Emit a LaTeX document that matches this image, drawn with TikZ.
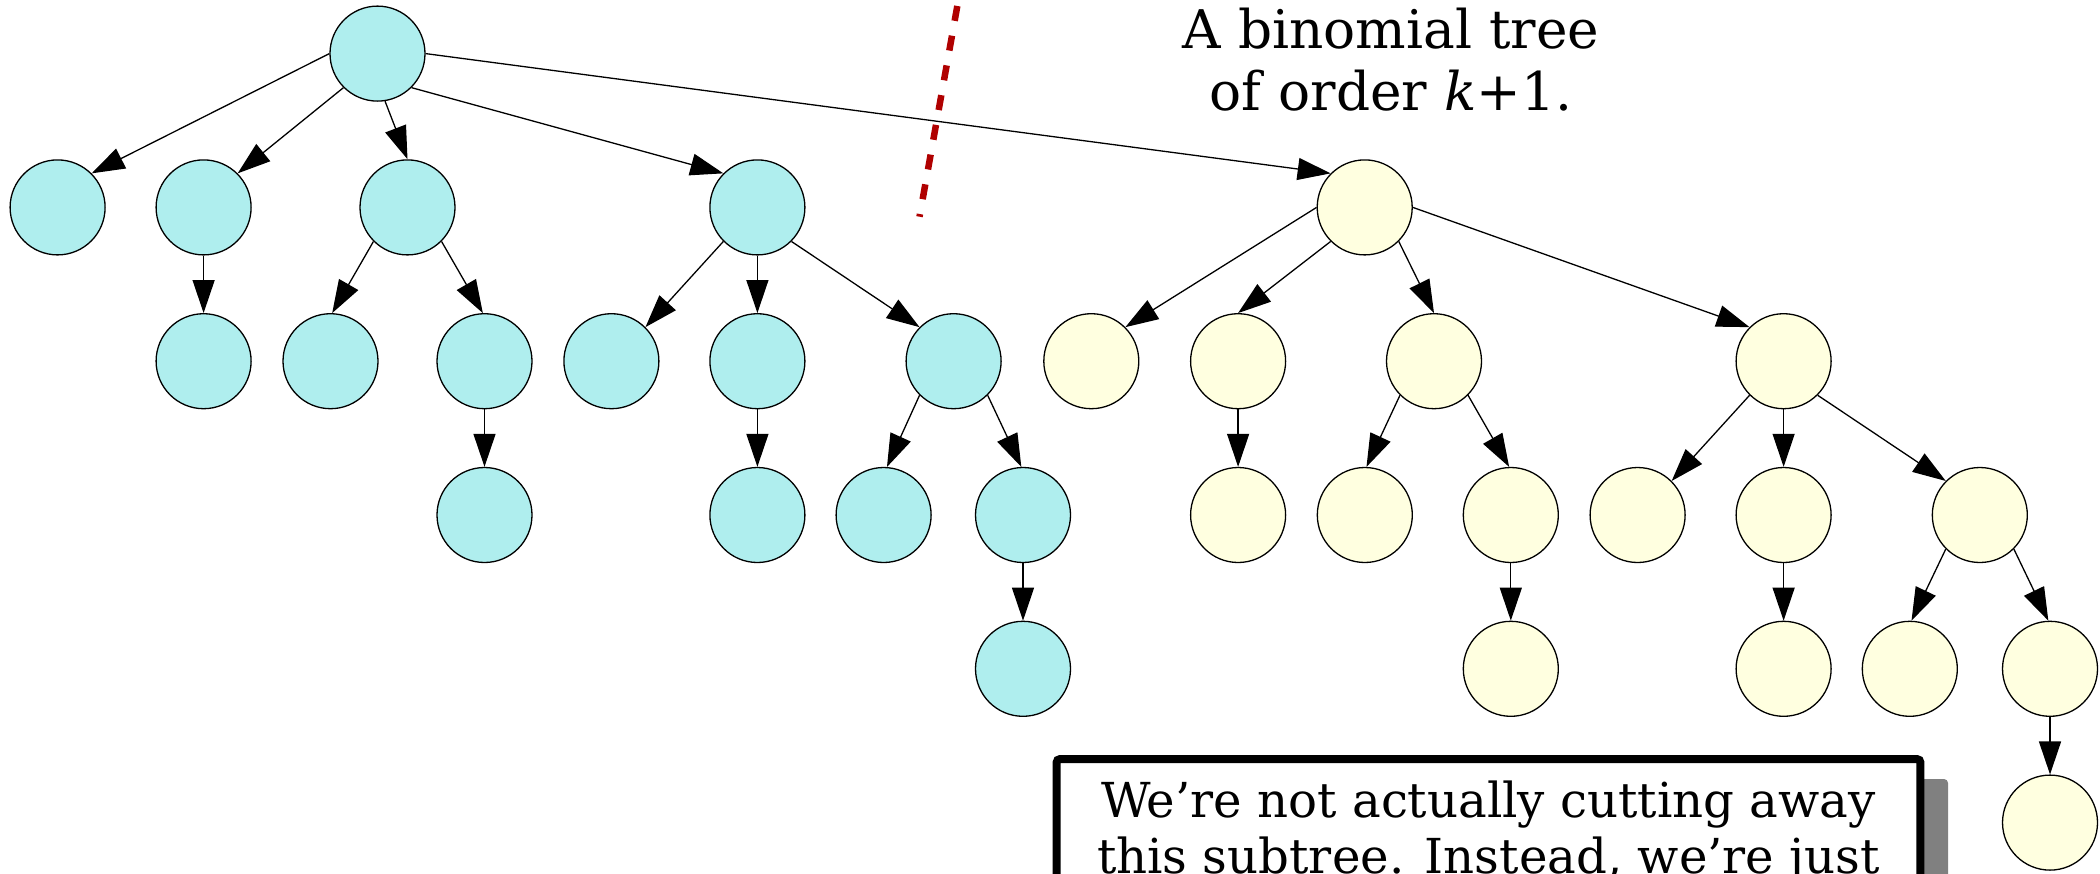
\documentclass[tikz,border=0pt]{standalone}
\usepackage{fontspec}
\setmainfont{DejaVu Serif}
\usetikzlibrary{arrows.meta}
\definecolor{bluefill}{HTML}{AFEEEE}
\definecolor{yelfill}{HTML}{FFFFE0}
\definecolor{cutred}{RGB}{176,0,0}
\definecolor{shadowgray}{RGB}{128,128,128}
\begin{document}
\begin{tikzpicture}[x=1pt,y=-1pt,
  bn/.style={circle, draw=black, line width=1.3pt, fill=bluefill, minimum size=95pt, inner sep=0pt},
  yn/.style={circle, draw=black, line width=1.3pt, fill=yelfill, minimum size=95pt, inner sep=0pt},
  edge/.style={-{Triangle[length=33pt,width=22pt]}, line width=1.3pt},
  titletext/.style={font=\fontsize{53.3}{62}\selectfont, inner sep=0pt, anchor=base},
  notetext/.style={font=\fontsize{48.2}{56}\selectfont, inner sep=0pt, anchor=base}]
\clip (0,0) rectangle (2100,873);
\fill[white] (0,0) rectangle (2100,873);
% levels
\def\la{53.6}\def\lb{207.4}\def\lc{361.2}\def\ld{515}\def\le{668.8}\def\lf{822.6}
% blue tree
\node[bn] (r) at (377.5,\la) {};
\node[bn] (a) at (57.6,\lb) {};
\node[bn] (b) at (203.6,\lb) {};
\node[bn] (c) at (407.5,\lb) {};
\node[bn] (d) at (757.4,\lb) {};
\node[bn] (b1) at (203.6,\lc) {};
\node[bn] (c1) at (330.5,\lc) {};
\node[bn] (c2) at (484.5,\lc) {};
\node[bn] (d1) at (611.4,\lc) {};
\node[bn] (d2) at (757.4,\lc) {};
\node[bn] (d3) at (953.6,\lc) {};
\node[bn] (c2a) at (484.5,\ld) {};
\node[bn] (d2a) at (757.4,\ld) {};
\node[bn] (d3a) at (883.6,\ld) {};
\node[bn] (d3b) at (1023,\ld) {};
\node[bn] (d3ba) at (1023,\le) {};
% yellow tree
\node[yn] (e) at (1364.7,\lb) {};
\node[yn] (e1) at (1091.3,\lc) {};
\node[yn] (e2) at (1238.1,\lc) {};
\node[yn] (e3) at (1434,\lc) {};
\node[yn] (e4) at (1783.6,\lc) {};
\node[yn] (e2a) at (1238.1,\ld) {};
\node[yn] (e3a) at (1364.8,\ld) {};
\node[yn] (e3b) at (1510.8,\ld) {};
\node[yn] (e4a) at (1637.6,\ld) {};
\node[yn] (e4b) at (1783.6,\ld) {};
\node[yn] (e4c) at (1979.8,\ld) {};
\node[yn] (e3ba) at (1510.8,\le) {};
\node[yn] (e4ba) at (1783.6,\le) {};
\node[yn] (e4ca) at (1909.8,\le) {};
\node[yn] (e4cb) at (2050,\le) {};
\node[yn] (e4cba) at (2050,\lf) {};
% edges: source/out-angle/target/in-angle
\foreach \s/\o/\t/\i in {r/180/a/45, r/225/b/45, r/279/c/90, r/315/d/135, r/0/e/135,
  b/270/b1/90, c/225/c1/88, c/315/c2/92, c2/270/c2a/90,
  d/225/d1/45, d/270/d2/90, d/315/d3/135, d2/270/d2a/90,
  d3/225/d3a/86, d3/315/d3b/92, d3b/270/d3ba/90,
  e/180/e1/45, e/225/e2/90, e/315/e3/90, e/0/e4/135, e2/270/e2a/90,
  e3/225/e3a/88, e3/315/e3b/92, e3b/270/e3ba/90,
  e4/225/e4a/45, e4/270/e4b/90, e4/315/e4c/135, e4b/270/e4ba/90,
  e4c/225/e4ca/88, e4c/315/e4cb/92, e4cb/270/e4cba/90}
  \draw[edge] (\s.\o) -- (\t.\i);
% cut line
\coordinate (cuttop) at (962.65,-23.75);
\coordinate (cutbot) at (919.5,216.7);
\draw[cutred, line width=6.5pt, dash pattern=on 15.1pt off 15.1pt] (cuttop) -- (cutbot);
% title
\node[titletext] (t1) at (1391,48.3) {A binomial tree};
\node[titletext] (t2) at (1391,110) {of order \textit{k}+1.};
% callout
\fill[shadowgray, rounded corners=4pt] (1076.7,779) rectangle (1948,1000);
\draw[line width=8pt, fill=white, rounded corners=3pt] (1056.7,759.2) rectangle (1920.3,1000);
\node[notetext] (n1) at (1488.5,817) {We’re not actually cutting away};
\node[notetext] (n2) at (1488.5,873) {this subtree. Instead, we’re just};
\end{tikzpicture}
\end{document}
